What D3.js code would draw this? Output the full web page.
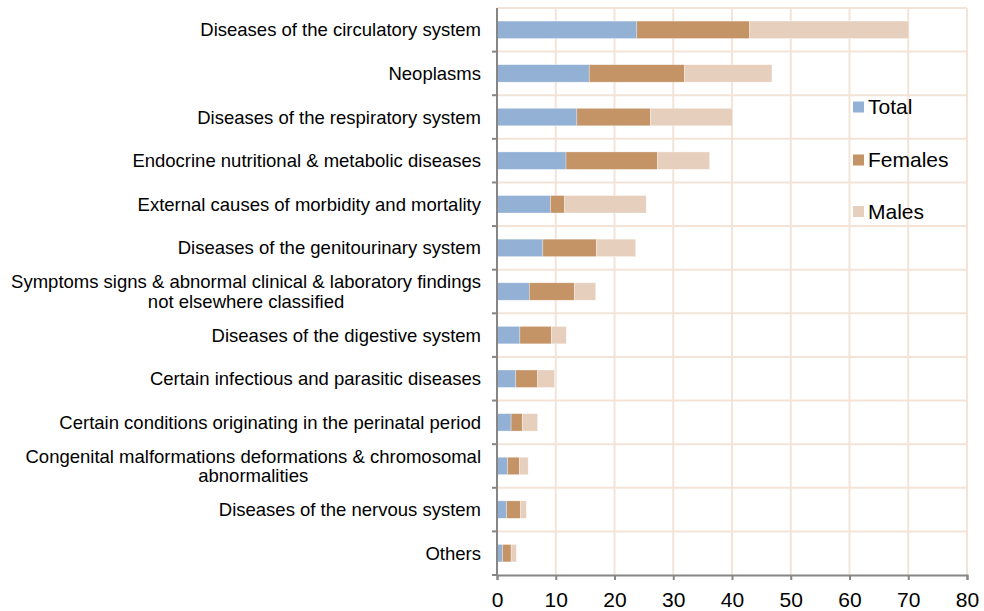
<!DOCTYPE html>
<html>
<head>
<meta charset="utf-8">
<script src="https://cdn.jsdelivr.net/npm/d3@7"></script>
<style>
  body { margin: 0; background: #fff; }
  text { font-family: "Liberation Sans", Arial, sans-serif; fill: #000; }
</style>
</head>
<body>
<div class="plot"></div>
<script>
// categories, top to bottom (multi-line labels split with "\n")
const categories = [
  "Diseases of the circulatory system",
  "Neoplasms",
  "Diseases of the respiratory system",
  "Endocrine nutritional & metabolic diseases",
  "External causes of morbidity and mortality",
  "Diseases of the genitourinary system",
  "Symptoms signs & abnormal clinical & laboratory findings\nnot elsewhere classified",
  "Diseases of the digestive system",
  "Certain infectious and parasitic diseases",
  "Certain conditions originating in the perinatal period",
  "Congenital malformations deformations & chromosomal\nabnormalities",
  "Diseases of the nervous system",
  "Others"
];
const seriesNames = ["Total", "Females", "Males"];
const total   = [23.8, 15.7, 13.6, 11.75, 9.1, 7.8, 5.5, 3.9, 3.2, 2.4, 1.8, 1.65, 0.95];
const females = [19.2, 16.2, 12.5, 15.55, 2.4, 9.1, 7.7, 5.35, 3.7, 1.9, 2.0, 2.35, 1.45];
const males   = [27.1, 14.9, 14.0, 8.9, 13.9, 6.7, 3.6, 2.55, 2.9, 2.6, 1.5, 1.0, 0.9];
const xTicks = [0, 10, 20, 30, 40, 50, 60, 70, 80];

const colors = {Total: "#93b1d5", Females: "#c49466", Males: "#e6d0bd"};

const margin = {top: 8, right: 17, bottom: 36, left: 497};
const W = 984, H = 611;
const w = W - margin.left - margin.right;
const h = H - margin.top - margin.bottom;

const svg = d3.select(".plot").append("svg")
    .attr("width", W)
    .attr("height", H);
const g = svg.append("g")
    .attr("transform", "translate(" + margin.left + "," + margin.top + ")");

const rows = categories.map((c, i) => ({cat: c, Total: total[i], Females: females[i], Males: males[i]}));

const x = d3.scaleLinear().domain([0, 80]).range([0, w]);
const y = d3.scaleBand().domain(categories).range([0, h]).paddingInner(0.6).paddingOuter(0.3);
const band = d3.scaleBand().domain(categories).range([0, h]);

// gridlines
const grid = g.append("g").attr("class", "grid");
grid.selectAll("line.v")
    .data(xTicks.slice(1))
    .enter().append("line")
    .attr("x1", d => x(d)).attr("x2", d => x(d))
    .attr("y1", 0).attr("y2", h)
    .attr("stroke", "#f3e4d7").attr("stroke-width", 2);
grid.selectAll("line.h")
    .data(categories)
    .enter().append("line")
    .attr("x1", 0).attr("x2", w)
    .attr("y1", d => band(d)).attr("y2", d => band(d))
    .attr("stroke", "#f3e4d7").attr("stroke-width", 2);

// stacked bars
const stack = d3.stack().keys(seriesNames)(rows);
g.selectAll("g.series")
    .data(stack)
    .enter().append("g")
    .attr("fill", d => colors[d.key])
    .selectAll("rect")
    .data(d => d)
    .enter().append("rect")
    .attr("x", d => x(d[0]))
    .attr("width", d => x(d[1]) - x(d[0]))
    .attr("y", d => y(d.data.cat))
    .attr("height", y.bandwidth())
    .attr("stroke", "#ffffff")
    .attr("stroke-opacity", 0.5)
    .attr("stroke-width", 0.6);

// x axis
const xAxis = g.append("g")
    .attr("transform", "translate(0," + h + ")")
    .call(d3.axisBottom(x).tickValues(xTicks).tickSize(5).tickPadding(12));
xAxis.select(".domain").attr("stroke", "#868686").attr("stroke-width", 2);
xAxis.selectAll(".tick line").attr("stroke", "#868686").attr("stroke-width", 2);
xAxis.selectAll("text").style("font-size", "21px").attr("fill", "#000");

// y axis (ticks at category boundaries)
const yAxisG = g.append("g");
yAxisG.append("line")
    .attr("x1", 0).attr("x2", 0).attr("y1", 0).attr("y2", h + 1)
    .attr("stroke", "#868686").attr("stroke-width", 2);
yAxisG.selectAll("line.tk")
    .data(categories.slice(1).concat(["__end"]))
    .enter().append("line")
    .attr("x1", -5).attr("x2", 0)
    .attr("y1", (d, i) => i < categories.length - 1 ? band(d) : h)
    .attr("y2", (d, i) => i < categories.length - 1 ? band(d) : h)
    .attr("stroke", "#868686").attr("stroke-width", 2);

// category labels
const labels = g.selectAll("text.cat")
    .data(categories)
    .enter().append("text")
    .attr("class", "cat")
    .style("font-size", "18.5px");
labels.each(function(d) {
    const lines = d.split("\n");
    const t = d3.select(this);
    const cy = band(d) + band.bandwidth() / 2;
    const lh = 19.7;
    const startY = cy - (lines.length - 1) * lh / 2 + 6.5;
    if (lines.length === 1) {
        t.attr("x", -16).attr("y", startY).attr("text-anchor", "end").text(d);
    } else {
        t.attr("text-anchor", "middle").attr("y", startY);
        lines.forEach((ln, k) => {
            t.append("tspan").attr("y", startY + k * lh).text(ln);
        });
    }
});
// center multi-line labels on their widest line, right-aligned at the axis
labels.filter(d => d.includes("\n")).each(function() {
    const t = d3.select(this);
    const widths = t.selectAll("tspan").nodes().map(n => n.getComputedTextLength());
    const maxW = d3.max(widths);
    t.selectAll("tspan").attr("x", -16 - maxW / 2);
});

// legend
const legend = svg.append("g").attr("transform", "translate(853,0)");
const legendY = [107, 160, 211.5];
seriesNames.forEach((s, i) => {
    legend.append("rect")
        .attr("x", 0).attr("y", legendY[i] - 5.5)
        .attr("width", 11).attr("height", 11)
        .attr("fill", colors[s]);
    legend.append("text")
        .attr("x", 15).attr("y", legendY[i] + 7.3)
        .style("font-size", "21px")
        .text(s);
});
</script>
</body>
</html>
